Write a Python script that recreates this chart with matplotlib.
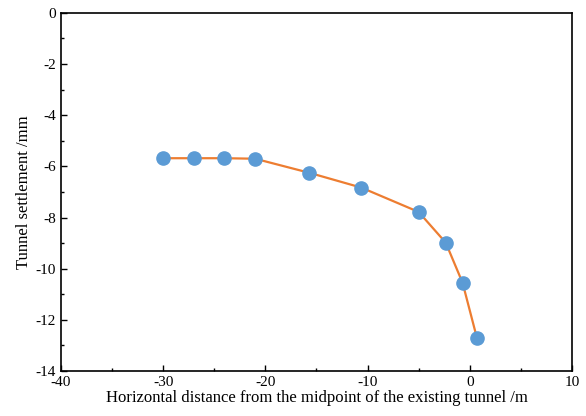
import matplotlib
matplotlib.use("Agg")
import matplotlib.pyplot as plt
from matplotlib.ticker import MultipleLocator

plt.rcParams['font.family'] = ['Liberation Serif', 'DejaVu Serif']
plt.rcParams['axes.unicode_minus'] = False

# distance from midpoint (m) and settlement (mm)
x = [-30, -27, -24, -21, -15.7, -10.6, -5.0, -2.35, -0.7, 0.7]
settle = [-5.68, -5.68, -5.68, -5.7, -6.25, -6.83, -7.78, -8.98, -10.55, -12.7]

fig = plt.figure(figsize=(5.86, 4.16), dpi=100)
ax = fig.add_axes([0.104, 0.108, 0.872, 0.861])
ax.plot(x, settle, color='#ED7D31', lw=1.6, marker='o', markersize=9.5,
        markerfacecolor='#5B9BD5', markeredgecolor='#5B9BD5', zorder=3)

ax.set_xlim(-40, 10)
ax.set_ylim(-14, 0)
ax.xaxis.set_major_locator(MultipleLocator(10))
ax.xaxis.set_minor_locator(MultipleLocator(5))
ax.yaxis.set_major_locator(MultipleLocator(2))
ax.yaxis.set_minor_locator(MultipleLocator(1))
ax.tick_params(which='both', direction='in', top=False, right=False, labelsize=11)
ax.tick_params(which='major', length=4, width=1)
ax.tick_params(which='minor', length=2.5, width=1)
for s in ax.spines.values():
    s.set_linewidth(1.2)

ax.set_xlabel('Horizontal distance from the midpoint of the existing tunnel /m', fontsize=12, labelpad=1)
ax.set_ylabel('Tunnel settlement /mm', fontsize=12, labelpad=3)

fig.savefig('out.png', dpi=100)
